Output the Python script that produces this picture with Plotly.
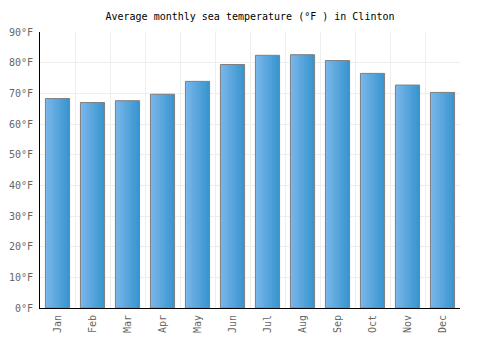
import plotly.graph_objects as go

months = ["Jan", "Feb", "Mar", "Apr", "May", "Jun", "Jul", "Aug", "Sep", "Oct", "Nov", "Dec"]
temps_f = [68.3, 67.0, 67.6, 69.7, 73.9, 79.4, 82.4, 82.6, 80.7, 76.5, 72.7, 70.3]
y_ticks = [0, 10, 20, 30, 40, 50, 60, 70, 80, 90]
y_labels = [f"{v}°F" for v in y_ticks]

font_family = "DejaVu Sans Mono, monospace"

# gradient endpoints (left -> right) for the bar fill
c_left = (122, 182, 234)
c_right = (58, 150, 208)
n_strips = 14
bar_w = 0.69

fig = go.Figure()
strip_w = bar_w / n_strips
for i in range(n_strips):
    t = i / (n_strips - 1)
    col = tuple(round(a + (b - a) * t) for a, b in zip(c_left, c_right))
    fig.add_trace(
        go.Bar(
            x=months,
            y=temps_f,
            width=strip_w * 1.08,
            offset=-bar_w / 2 + i * strip_w,
            marker=dict(color=f"rgb{col}", line=dict(width=0)),
            hoverinfo="skip",
        )
    )

# outline
fig.add_trace(
    go.Bar(
        x=months,
        y=temps_f,
        width=bar_w,
        offset=-bar_w / 2,
        marker=dict(color="rgba(0,0,0,0)", line=dict(color="#808080", width=1)),
        hoverinfo="skip",
    )
)

fig.update_layout(
    width=500,
    height=350,
    margin=dict(l=40, r=40, t=32, b=42),
    paper_bgcolor="white",
    plot_bgcolor="white",
    barmode="overlay",
    showlegend=False,
    title=dict(
        text="Average monthly sea temperature (°F ) in Clinton",
        x=0.5,
        xanchor="center",
        y=0.952,
        yanchor="middle",
        font=dict(family=font_family, size=10, color="#000"),
    ),
    font=dict(family=font_family, size=10, color="#666"),
)

fig.update_xaxes(
    type="category",
    tickangle=-90,
    tickson="boundaries",
    showgrid=True,
    gridcolor="#eeeeee",
    gridwidth=1,
    showline=True,
    linecolor="#000",
    linewidth=1,
    ticks="",
    automargin=False,
    ticklabelstandoff=2,
    tickfont=dict(family=font_family, size=10, color="#666"),
)

fig.update_yaxes(
    range=[0, 90],
    tickmode="array",
    tickvals=y_ticks,
    ticktext=y_labels,
    showgrid=True,
    gridcolor="#eeeeee",
    gridwidth=1,
    showline=True,
    linecolor="#000",
    linewidth=1,
    zeroline=False,
    ticks="",
    automargin=False,
    ticklabelstandoff=4,
    tickfont=dict(family=font_family, size=10, color="#666"),
)

fig.write_html("out.html")
